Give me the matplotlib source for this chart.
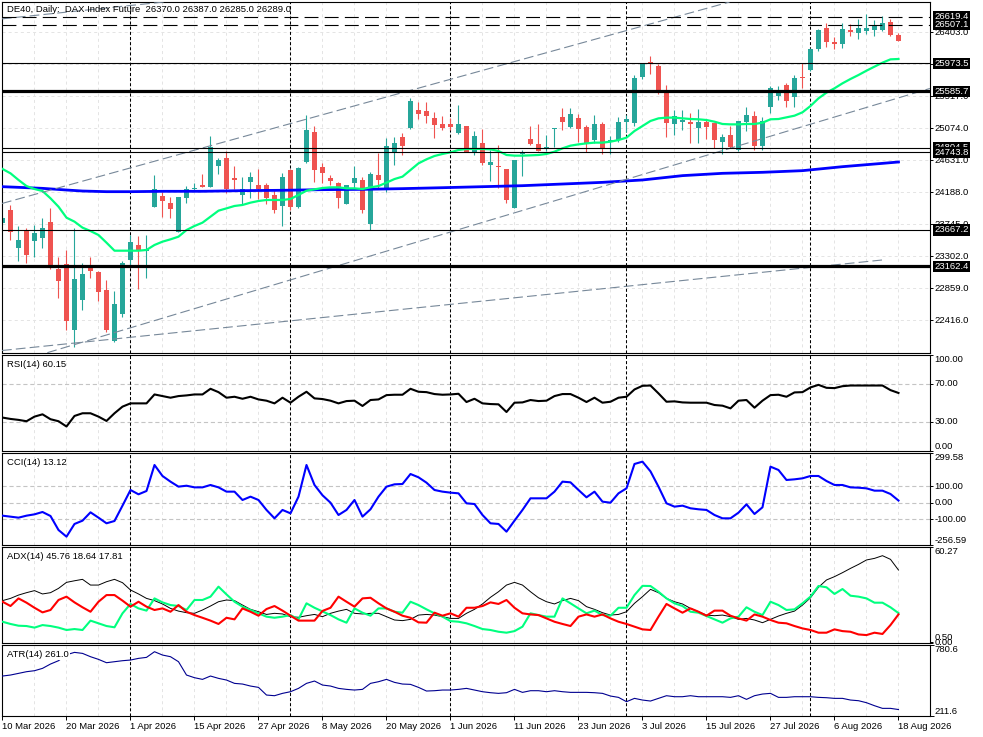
import matplotlib
matplotlib.use("Agg")
import matplotlib.pyplot as plt
import matplotlib.transforms as mtransforms
import numpy as np

plt.rcParams['font.family'] = ['Liberation Sans', 'DejaVu Sans']
plt.rcParams['font.size'] = 6.8
plt.rcParams['lines.scale_dashes'] = False

W, H = 983, 737

# ---------------- data ----------------
header = "DE40, Daily:  DAX Index Future  26370.0 26387.0 26285.0 26289.0"

date_labels = ["10 Mar 2026", "20 Mar 2026", "1 Apr 2026", "15 Apr 2026", "27 Apr 2026",
               "8 May 2026", "20 May 2026", "1 Jun 2026", "11 Jun 2026", "23 Jun 2026",
               "3 Jul 2026", "15 Jul 2026", "27 Jul 2026", "6 Aug 2026", "18 Aug 2026"]
date_bars = [0, 8, 16, 24, 32, 40, 48, 56, 64, 72, 80, 88, 96, 104, 112]
month_bars = [16, 36, 56, 78, 101]   # first bar of each month (period separators)

opens = [23759, 23943, 23422, 23666, 23519, 23551, 23782, 23122, 23196, 22282,
         22697, 23159, 23090, 22836, 22134, 22499, 23251, 23459, 23380, 23989,
         24137, 24045, 23643, 24105, 24234, 24289, 24266, 24557, 24659, 24382,
         24151, 24326, 24289, 24289, 24151, 23999, 24497, 23989, 24603, 25019,
         24534, 24391, 24322, 24026, 24312, 24359, 23749, 24428, 24229, 24742,
         24959, 25074, 25328, 25314, 25222, 25134, 25134, 25014, 25106, 24728,
         24866, 24571, 24557, 24511, 23976, 24719, 24926, 24857, 24783, 25060,
         25236, 25097, 25222, 25097, 24912, 25134, 24889, 24912, 25166, 25152,
         25780, 25997, 25942, 25595, 25134, 25166, 25157, 25074, 25157, 25143,
         24889, 24982, 24774, 25166, 25245, 24834, 25365, 25522, 25674, 25512,
         25789, 25882, 26168, 26458, 26265, 26237, 26435, 26398, 26426, 26435,
         26435, 26551, 26370]
highs = [23860, 24013, 23722, 23689, 23736, 23828, 23966, 23288, 23390, 23689,
         23205, 23297, 23103, 22974, 22822, 23242, 23597, 23583, 23597, 24428,
         24197, 24128, 24128, 24275, 24322, 24437, 24968, 24659, 24765, 24552,
         24405, 24465, 24506, 24322, 24220, 24460, 24506, 24534, 25259, 25106,
         24589, 24428, 24336, 24295, 24552, 24405, 24474, 24737, 24936, 24959,
         25014, 25489, 25443, 25443, 25305, 25245, 25212, 25397, 25110, 25037,
         25065, 24774, 24843, 24515, 24640, 24774, 25106, 25134, 24982, 25076,
         25360, 25360, 25268, 25116, 25259, 25157, 24968, 25226, 25259, 25812,
         25975, 26075, 25965, 25674, 25328, 25328, 25282, 25337, 25203, 25152,
         24991, 25106, 25180, 25374, 25314, 25236, 25660, 25660, 25697, 25812,
         25974, 26182, 26445, 26528, 26334, 26528, 26518, 26588, 26657, 26574,
         26629, 26583, 26387]
lows = [23736, 23528, 23242, 23205, 23297, 23413, 23122, 22720, 22282, 22051,
        22559, 22997, 22688, 22259, 22120, 22466, 23159, 22845, 22997, 23980,
        23851, 23837, 23634, 24036, 24220, 24257, 24257, 24442, 24174, 24229,
        24013, 24105, 24091, 24022, 23897, 23722, 23943, 23966, 24589, 24336,
        24322, 24289, 23976, 24020, 24243, 23906, 23666, 24229, 24197, 24566,
        24705, 25065, 25203, 25152, 24945, 25051, 25051, 24996, 24745, 24705,
        24566, 24345, 24253, 24045, 23970, 24414, 24850, 24760, 24760, 24820,
        25051, 25074, 24889, 24751, 24866, 24714, 24714, 24889, 25028, 25106,
        25752, 25826, 25545, 24959, 24982, 25051, 24876, 24876, 24922, 24797,
        24719, 24797, 24765, 25037, 24774, 24774, 25282, 25466, 25365, 25374,
        25628, 25872, 26149, 26205, 26168, 26191, 26357, 26311, 26380, 26352,
        26426, 26357, 26285]
closes = [23837, 23634, 23528, 23320, 23620, 23699, 23159, 22965, 22411, 22983,
          23057, 23103, 22813, 22282, 22642, 23205, 23496, 23390, 23399, 24234,
          24068, 23957, 24119, 24234, 24243, 24266, 24820, 24636, 24229, 24359,
          24229, 24405, 24229, 24114, 23943, 24396, 23989, 24520, 25051, 24497,
          24460, 24349, 24114, 24289, 24391, 23943, 24442, 24359, 24829, 24866,
          24834, 25452, 25272, 25245, 25120, 25083, 25097, 25134, 24751, 24968,
          24599, 24608, 24543, 24082, 24636, 24751, 24857, 24765, 24811, 25074,
          25166, 25272, 25065, 24866, 25134, 24797, 24912, 25162, 25203, 25766,
          25974, 25965, 25605, 25143, 25249, 25189, 25129, 25166, 25097, 24912,
          24949, 24811, 25176, 25259, 24834, 25176, 25628, 25568, 25457, 25775,
          25771, 26172, 26435, 26274, 26242, 26445, 26412, 26458, 26458, 26491,
          26528, 26366, 26289]

ma_fast = [24511, 24451, 24359, 24275, 24234, 24206, 24105, 23989, 23837, 23782,
           23699, 23652, 23597, 23491, 23380, 23380, 23380, 23380, 23390, 23459,
           23505, 23537, 23574, 23666, 23722, 23768, 23851, 23934, 23966, 23999,
           24013, 24045, 24068, 24082, 24082, 24082, 24096, 24151, 24211, 24229,
           24248, 24257, 24257, 24243, 24243, 24234, 24257, 24275, 24322, 24372,
           24405, 24497, 24589, 24645, 24691, 24719, 24742, 24774, 24788, 24788,
           24788, 24783, 24760, 24705, 24696, 24696, 24700, 24705, 24719, 24751,
           24797, 24834, 24852, 24866, 24876, 24876, 24889, 24912, 24945, 25037,
           25106, 25176, 25212, 25222, 25222, 25212, 25203, 25199, 25189, 25166,
           25134, 25129, 25129, 25134, 25134, 25152, 25199, 25203, 25226, 25249,
           25296, 25383, 25489, 25568, 25628, 25697, 25757, 25812, 25872, 25928,
           25983, 26029, 26034]

ma_slow_bars = [0, 2, 5, 8, 10, 13, 16, 20, 25, 30, 35, 40, 45, 50, 55, 60, 65, 70,
                75, 80, 85, 90, 95, 100, 105, 110, 112]
ma_slow = [24266, 24257, 24243, 24220, 24206, 24197, 24197, 24202, 24202, 24211,
           24216, 24225, 24229, 24239, 24252, 24266, 24280, 24303, 24326, 24359,
           24419, 24451, 24465, 24488, 24543, 24589, 24608]

level_thick = [25585.7, 23162.4]
level_thin = [25973.5, 24804.5, 24743.8, 23667.2]
level_dash = [26619.4, 26507.1]

# trend lines as two anchor points (bar, price)
trend_rays = [((-0.31, 24026), (80.94, 26518)),
              ((8.81, 22074), (115.69, 25618)),
              ((0.56, 26597), (19.31, 26813))]
trend_segment = ((-0.06, 21998), (109.94, 23251))

price_ticks = [26403.0, 25960.0, 25517.0, 25074.0, 24631.0, 24188.0,
               23745.0, 23302.0, 22859.0, 22416.0]

rsi = [34.5, 33.1, 32.1, 30.7, 35.5, 37.9, 32.8, 30.7, 25.2, 36.2,
       39.0, 39.0, 35.5, 31.0, 39.0, 45.9, 49.3, 49.3, 49.3, 58.6,
       56.9, 55.2, 56.9, 57.6, 58.6, 58.6, 64.5, 61.0, 55.2, 56.2,
       54.1, 56.2, 53.4, 52.1, 49.3, 55.2, 50.0, 56.2, 61.4, 54.5,
       53.8, 52.1, 49.3, 51.7, 52.1, 46.6, 52.8, 53.4, 57.9, 58.3,
       58.3, 64.5, 61.4, 61.0, 59.0, 58.3, 58.6, 59.3, 50.7, 54.1,
       49.3, 48.6, 48.3, 40.3, 50.0, 50.3, 52.8, 51.7, 52.1, 56.9,
       59.0, 59.0, 55.2, 50.7, 55.2, 50.0, 51.0, 55.2, 56.2, 63.8,
       67.6, 67.9, 59.7, 51.0, 51.4, 50.3, 50.0, 50.0, 50.0, 47.6,
       46.9, 44.1, 52.1, 52.8, 44.8, 52.1, 57.9, 58.3, 56.2, 60.7,
       61.0, 65.9, 68.6, 65.5, 65.2, 67.2, 67.9, 67.9, 67.9, 67.9,
       67.9, 63.1, 60.15]

cci = [-78.7, -84.7, -90.8, -78.7, -70.6, -56.4, -80.7, -165.6, -206, -129,
       -109, -58.4, -90.8, -125, -111, -18, 77, 50.8, 71, 228.7,
       162, 127.6, 97.3, 103, 93, 93, 107.4, 93, 67, 67,
       16.4, 36.6, 16.4, -44, -94.8, -44, -64.5, 36.6, 228.7, 107.4,
       45, 0, -74.6, -44, 16.4, -84.7, -40, 36.6, 97.3, 111.4,
       113.4, 174, 154, 121.5, 77, 67, 60.9, 56.8, -3.8, -8,
       -74.6, -125, -129, -175.7, -109, -44, 26.5, 26.5, 26.5, 67,
       127.6, 123.5, 77, 32.6, 67, 6.3, 0, 56.8, 87, 234.8,
       249, 190, 97.3, -3.8, -24, -18, -34, -40, -44, -74.6,
       -94.8, -94.8, -60.5, -10, -68.5, -28, 218.6, 198.4, 137.7, 141.7,
       147.8, 162, 162, 131.6, 107.4, 107.4, 93, 91, 87, 73,
       73, 52.8, 13.12]

adx = [26.5, 27.9, 30, 31.5, 32.8, 30.7, 31.5, 34.2, 38, 39,
       39.9, 36.3, 36.3, 38.4, 39.9, 37.8, 33.2, 30.7, 27.9, 26.5,
       24.4, 21.6, 19.9, 18.9, 18.5, 20.6, 23.1, 25.8, 26.9, 26.5,
       23.7, 21, 19.5, 17.8, 18.5, 18.1, 16.4, 16, 17, 17.8,
       16.4, 18.5, 19.9, 21, 18.5, 18.1, 18.5, 18.5, 16.4, 14.3,
       13.9, 14.7, 17.4, 17.8, 17.4, 16.4, 15.3, 15.3, 18.5, 21,
       24.4, 28.6, 32.1, 36.3, 38, 36.3, 32.1, 28.3, 25.8, 24.4,
       26.5, 27.9, 26.5, 22.7, 21, 18.9, 17.4, 17.8, 19.5, 24.8,
       29, 33.6, 31.5, 27.9, 25.8, 24.4, 21.6, 19.5, 17.4, 17,
       17.4, 16.4, 14.7, 15.3, 14.3, 12.6, 14.7, 16.8, 18.5, 19.9,
       23.7, 28.3, 34.9, 39.5, 41.6, 44.1, 46.8, 49.3, 52.1, 53.1,
       54.8, 52.5, 45.76]
plus_di = [13.2, 11.8, 10.7, 10.5, 9.5, 11.1, 10.5, 9.5, 8, 8.6,
           8, 13.9, 12.2, 10.5, 9.7, 18.5, 24.4, 21.6, 20.2, 27.9,
           25.4, 23.7, 23.1, 20.6, 26.9, 26.9, 29, 35.3, 30.4, 25.8,
           22.7, 20.6, 18.5, 16.4, 15.7, 16.4, 17.4, 14.7, 24.8, 22,
           19.7, 17.4, 14.7, 12.6, 21.6, 18.9, 17, 21.6, 21.6, 19.5,
           18.9, 25.8, 23.7, 21, 18.5, 16.4, 13.6, 13.2, 12.2, 10.5,
           8.6, 8, 6.9, 6.3, 7.3, 10.1, 18.5, 17.4, 16.4, 16.4,
           27.9, 24.8, 21.6, 18.5, 20.2, 17.4, 17, 22, 22, 30,
           35.8, 35.7, 32.1, 27.9, 24.8, 23.1, 19.5, 18.9, 16.8, 14.7,
           12.6, 15.3, 16.4, 22.3, 19.5, 17.4, 25.8, 23.7, 20.6, 21,
           24.8, 29, 35.7, 34.9, 30.7, 33.8, 29.6, 29, 27.9, 25.2,
           25.2, 22.3, 18.64]
minus_di = [25.8, 23.1, 27.9, 25.2, 22, 19.1, 20.6, 26.9, 29, 25.4,
            22.3, 19.5, 25.8, 30, 30, 26.5, 22.7, 25.8, 22.7, 20.6,
            21.6, 19.5, 23.7, 19.5, 17.4, 15.7, 13.9, 11.8, 15.7, 14.7,
            21.6, 19.5, 17, 21.2, 23.1, 20.2, 17, 13.9, 13.9, 13.9,
            20, 22, 29, 25.8, 22.7, 27.9, 28.3, 24.8, 21.6, 19.5,
            17, 15.7, 12.8, 12.6, 18.9, 17, 18.5, 16.4, 22, 22,
            23.1, 25.4, 24.4, 26.9, 22, 18.5, 17.8, 17.4, 15.3, 13.2,
            11.8, 10.5, 16.4, 17.8, 16.4, 17.8, 15.3, 13.2, 11.8, 10.1,
            8.4, 8, 16.4, 24.4, 21.6, 18.9, 21.6, 19.5, 17, 20.2,
            20.2, 17, 15.3, 13.9, 17.8, 16.4, 14.3, 12.6, 12.2, 10.5,
            9, 8, 6.3, 6.3, 8.4, 7.3, 6.9, 5.2, 4.8, 6.3,
            5.5, 11.1, 17.81]
atr = [529.5, 537.5, 550.8, 564.2, 572.2, 590.9, 625.6, 652.3, 700, 719.1,
       711, 684.4, 663, 636.3, 644.3, 652.3, 657.7, 671, 679, 724.4,
       697.7, 684.4, 644.3, 537.5, 516.1, 502.7, 529.5, 510.8, 497.4, 470.7,
       465.3, 449.3, 438.6, 377.2, 371.8, 390.6, 403.9, 430.6, 470.7, 489.4,
       457.3, 449.3, 430.6, 422.6, 417.3, 422.6, 470.7, 484, 502.7, 478.7,
       465.3, 462.7, 438.6, 409.3, 411.9, 417.3, 417.3, 422.6, 430.6, 417.3,
       403.9, 395.9, 390.6, 395.9, 422.6, 398.6, 411.9, 411.9, 403.9, 411.9,
       403.9, 398.6, 398.6, 398.6, 395.9, 390.6, 369.2, 358.5, 323.8, 350.5,
       337.1, 329.1, 350.5, 371.8, 363.8, 363.8, 371.8, 363.8, 363.8, 363.8,
       363.8, 358.5, 371.8, 342.5, 371.8, 385.2, 390.6, 358.5, 358.5, 363.8,
       363.8, 363.8, 358.5, 355.8, 350.5, 350.5, 337.1, 331.8, 315.8, 291.7,
       270.4, 270.4, 261.0]

# ---------------- styling ----------------
UP = '#26a69a'
DOWN = '#ef5350'
GRID = '#e4e4e4'
LEVEL = '#c4c4c4'
XMIN, XMAX = -0.0625, 115.94

fig = plt.figure(figsize=(W / 100, H / 100), dpi=100)


def px(v):
    return v / 100.0


def make_panel(top, bottom):
    ax = fig.add_axes([2 / W, 1 - bottom / H, 928 / W, (bottom - top) / H])
    ax.set_xlim(XMIN, XMAX)
    for s in ax.spines.values():
        s.set_linewidth(0.8)
        s.set_color('black')
    ax.tick_params(left=False, bottom=False, labelleft=False, labelbottom=False,
                   right=True, labelright=False, direction='out', length=2.4, width=0.7)
    for i in range(4, 116, 4):
        ax.axvline(i, color=GRID, lw=0.7, ls=(0, (2.2, 2.2)), zorder=0)
    for b in month_bars:
        ax.axvline(b, color='black', lw=0.75, ls=(0, (2.2, 1.5)), zorder=1.5)
    return ax


def right_labels(ax, vals, texts, vas):
    ax.set_yticks(vals)
    tr = mtransforms.blended_transform_factory(ax.transAxes, ax.transData) + \
        mtransforms.ScaledTranslation(px(4.5), 0, fig.dpi_scale_trans)
    for v, t, va in zip(vals, texts, vas):
        ax.text(1, v, t, transform=tr, ha='left', va=va, clip_on=False)


def name_label(ax, text, bg=False):
    tr = ax.transAxes + mtransforms.ScaledTranslation(px(5), px(-9.5), fig.dpi_scale_trans)
    kw = {}
    if bg:
        kw['bbox'] = dict(boxstyle='square,pad=0.1', fc='white', ec='none')
    ax.text(0, 1, text, transform=tr, ha='left', va='center', zorder=6, **kw)


x = np.arange(len(closes))
o = np.array(opens, float)
c = np.array(closes, float)

# ---------------- main price panel ----------------
ax = make_panel(2, 352.7)
ax.set_ylim(21967.6, 26823)
for p in price_ticks:
    ax.axhline(p, color=GRID, lw=0.7, ls=(0, (2.2, 2.2)), zorder=0)

cols = [UP if cc >= oo else DOWN for oo, cc in zip(opens, closes)]
ax.vlines(x, lows, highs, colors=cols, lw=0.8, zorder=2)
ax.bar(x, np.maximum(np.abs(c - o), 12), bottom=np.minimum(o, c), width=0.62,
       color=cols, lw=0, zorder=2.1)

ax.plot(ma_slow_bars, ma_slow, color='#0000ff', lw=2.0, zorder=3)
ax.plot(x, ma_fast, color='#00ff7f', lw=1.6, zorder=3.1)

for lv in level_thick:
    ax.axhline(lv, color='black', lw=2.3, zorder=4)
for lv in level_thin:
    ax.axhline(lv, color='black', lw=0.8, zorder=4)
for lv in level_dash:
    ax.axhline(lv, color='black', lw=0.8, ls=(0, (10, 4.5)), zorder=4)

for p1, p2 in trend_rays:
    ax.axline(p1, p2, color='#778899', lw=0.8, ls=(0, (7, 3)), zorder=3.5)
ax.plot([trend_segment[0][0], trend_segment[1][0]], [trend_segment[0][1], trend_segment[1][1]],
        color='#778899', lw=0.8, ls=(0, (7, 3)), zorder=3.5)

right_labels(ax, price_ticks, ['%.1f' % p for p in price_ticks], ['center'] * len(price_ticks))
box_tr = mtransforms.blended_transform_factory(ax.transAxes, ax.transData) + \
    mtransforms.ScaledTranslation(px(4.5), 0, fig.dpi_scale_trans)
for lv in level_dash + level_thin + level_thick:
    ax.text(1, lv, '%.1f' % lv, transform=box_tr, ha='left', va='center', color='white',
            clip_on=False, zorder=10,
            bbox=dict(boxstyle='square,pad=0.12', fc='black', ec='none'))
tr = ax.transAxes + mtransforms.ScaledTranslation(px(5), px(-7.5), fig.dpi_scale_trans)
ax.text(0, 1, header, transform=tr, ha='left', va='center', zorder=6)

# ---------------- RSI ----------------
ax = make_panel(354.7, 450.7)
ax.set_ylim(0, 100)
for lv in (70, 30):
    ax.axhline(lv, color=LEVEL, lw=0.8, ls=(0, (3, 2)), zorder=0.5)
ax.plot(x, rsi, color='black', lw=1.5, zorder=3)
right_labels(ax, [100, 70, 30, 0], ['100.00', '70.00', '30.00', '0.00'],
             ['top', 'center', 'center', 'bottom'])
name_label(ax, 'RSI(14) 60.15')

# ---------------- CCI ----------------
ax = make_panel(453.3, 545)
ax.set_ylim(-256.59, 299.58)
for lv in (100, 0, -100):
    ax.axhline(lv, color=LEVEL, lw=0.8, ls=(0, (3, 2)), zorder=0.5)
ax.plot(x, cci, color='#0000ff', lw=1.5, zorder=3)
right_labels(ax, [299.58, 100, 0, -100, -256.59],
             ['299.58', '100.00', '0.00', '-100.00', '-256.59'],
             ['top', 'center', 'center', 'center', 'bottom'])
name_label(ax, 'CCI(14) 13.12')

# ---------------- ADX ----------------
ax = make_panel(547, 642.7)
ax.set_ylim(0, 60.27)
ax.plot(x, adx, color='black', lw=0.7, zorder=3)
ax.plot(x, plus_di, color='#00ff7f', lw=1.5, zorder=3.1)
ax.plot(x, minus_di, color='#ff0000', lw=1.5, zorder=3.2)
right_labels(ax, [60.27, 0.5, 0], ['60.27', '0.50', '0.00'], ['top', 'bottom', 'center'])
name_label(ax, 'ADX(14) 45.76 18.64 17.81')

# ---------------- ATR ----------------
ax = make_panel(644.7, 715.7)
ax.set_ylim(211.6, 780.6)
ax.plot(x, atr, color='#000090', lw=0.8, zorder=3)
right_labels(ax, [780.6, 211.6], ['780.6', '211.6'], ['top', 'bottom'])
name_label(ax, 'ATR(14) 261.0', bg=True)
ax.set_xticks(date_bars)
ax.set_xticklabels(date_labels)
ax.tick_params(bottom=True, labelbottom=True, length=3, width=0.7, pad=1.2)
for t in ax.get_xticklabels():
    t.set_ha('left')

fig.savefig('out.png', dpi=100)
